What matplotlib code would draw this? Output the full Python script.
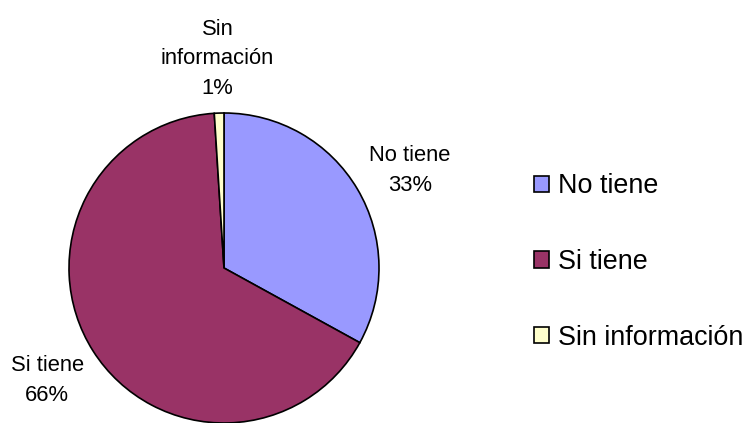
import matplotlib.pyplot as plt

plt.rcParams['font.family'] = ['Liberation Sans', 'DejaVu Sans']

categories = ['No tiene', 'Si tiene', 'Sin información']
pie_names = ['No tiene', 'Si tiene', 'Sin\ninformación']
values = [33, 66, 1]
colors = ['#9999FF', '#993366', '#FFFFCC']

W, H = 754, 423
fig = plt.figure(figsize=(W / 100, H / 100), dpi=100)
ax = fig.add_axes([0, 0, 1, 1])

# pie center / radius in pixel units (y up)
cx, cy, r = 224, H - 268, 155

labels = [f"{c}\n{v}%" for c, v in zip(pie_names, values)]
wedges, texts = ax.pie(values, labels=labels, colors=colors, startangle=90,
                       counterclock=False, center=(cx, cy), radius=r,
                       labeldistance=1.35,
                       wedgeprops=dict(edgecolor='black', linewidth=1.2),
                       textprops=dict(fontsize=15.8, linespacing=1.55))
for t in texts:
    t.set_ha('center')
    t.set_va('center')
# Excel puts the first label a little further out
x, y = texts[0].get_position()
texts[0].set_position((x + 6, y - 9))

ax.set_xlim(0, W)
ax.set_ylim(0, H)
ax.set_aspect('equal')
ax.axis('off')

fig.legend(wedges, categories, loc='center left',
           bbox_to_anchor=(534 / W, 1 - 262 / H), frameon=False,
           fontsize=19.4, handlelength=0.55, handleheight=0.55,
           handletextpad=0.35, labelspacing=1.85, borderpad=0,
           borderaxespad=0)

fig.savefig('out.png', dpi=100)
